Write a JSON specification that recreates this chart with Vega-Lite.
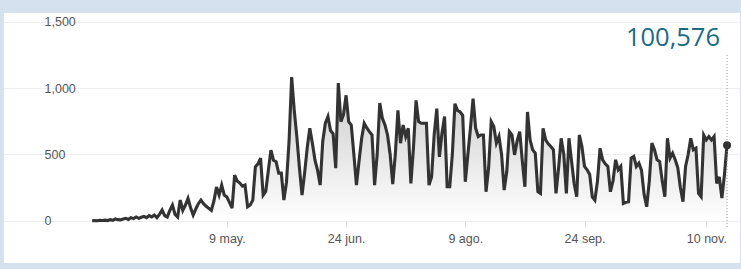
{
  "$schema": "https://vega.github.io/schema/vega-lite/v6.json",
  "autosize": "none",
  "width": 736,
  "height": 250,
  "padding": {"left": 4, "top": 13, "right": 1, "bottom": 6},
  "background": "#d5e1ee",
  "title": {"text": "100,576", "orient": "top", "anchor": "end", "frame": "group", "offset": -24, "dx": -20, "dy": 34, "baseline": "alphabetic", "font": "Open Sans", "fontSize": 25.5, "fontWeight": "normal", "color": "#1b6b82"},
  "config": {
    "view": {"fill": "white", "stroke": null},
    "axis": {"labelFont": "Liberation Sans", "labelFontSize": 12.5, "labelColor": "#555555", "gridColor": "#eeeeee", "domain": false, "title": null, "labelOverlap": false, "labelFlush": false}
  },
  "data": {"values": [
    {"date":"2020-03-18","cases":2},{"date":"2020-03-19","cases":3},{"date":"2020-03-20","cases":2},{"date":"2020-03-21","cases":5},{"date":"2020-03-22","cases":4},{"date":"2020-03-23","cases":6},{"date":"2020-03-24","cases":3},{"date":"2020-03-25","cases":10},{"date":"2020-03-26","cases":5},{"date":"2020-03-27","cases":15},{"date":"2020-03-28","cases":10},{"date":"2020-03-29","cases":8},{"date":"2020-03-30","cases":15},{"date":"2020-03-31","cases":20},
    {"date":"2020-04-01","cases":12},{"date":"2020-04-02","cases":25},{"date":"2020-04-03","cases":18},{"date":"2020-04-04","cases":30},{"date":"2020-04-05","cases":20},{"date":"2020-04-06","cases":28},{"date":"2020-04-07","cases":35},{"date":"2020-04-08","cases":25},{"date":"2020-04-09","cases":40},{"date":"2020-04-10","cases":30},{"date":"2020-04-11","cases":45},{"date":"2020-04-12","cases":25},{"date":"2020-04-13","cases":50},{"date":"2020-04-14","cases":82},{"date":"2020-04-15","cases":40},{"date":"2020-04-16","cases":30},{"date":"2020-04-17","cases":80},{"date":"2020-04-18","cases":120},{"date":"2020-04-19","cases":50},{"date":"2020-04-20","cases":30},{"date":"2020-04-21","cases":157},{"date":"2020-04-22","cases":80},{"date":"2020-04-23","cases":120},{"date":"2020-04-24","cases":170},{"date":"2020-04-25","cases":100},{"date":"2020-04-26","cases":45},{"date":"2020-04-27","cases":90},{"date":"2020-04-28","cases":130},{"date":"2020-04-29","cases":157},{"date":"2020-04-30","cases":130},
    {"date":"2020-05-01","cases":110},{"date":"2020-05-02","cases":95},{"date":"2020-05-03","cases":80},{"date":"2020-05-04","cases":150},{"date":"2020-05-05","cases":255},{"date":"2020-05-06","cases":195},{"date":"2020-05-07","cases":270},{"date":"2020-05-08","cases":195},{"date":"2020-05-09","cases":180},{"date":"2020-05-10","cases":140},{"date":"2020-05-11","cases":97},{"date":"2020-05-12","cases":345},{"date":"2020-05-13","cases":300},{"date":"2020-05-14","cases":285},{"date":"2020-05-15","cases":262},{"date":"2020-05-16","cases":270},{"date":"2020-05-17","cases":107},{"date":"2020-05-18","cases":120},{"date":"2020-05-19","cases":157},{"date":"2020-05-20","cases":407},{"date":"2020-05-21","cases":430},{"date":"2020-05-22","cases":472},{"date":"2020-05-23","cases":195},{"date":"2020-05-24","cases":222},{"date":"2020-05-25","cases":380},{"date":"2020-05-26","cases":532},{"date":"2020-05-27","cases":457},{"date":"2020-05-28","cases":445},{"date":"2020-05-29","cases":360},{"date":"2020-05-30","cases":360},{"date":"2020-05-31","cases":157},
    {"date":"2020-06-01","cases":290},{"date":"2020-06-02","cases":600},{"date":"2020-06-03","cases":1082},{"date":"2020-06-04","cases":832},{"date":"2020-06-05","cases":632},{"date":"2020-06-06","cases":400},{"date":"2020-06-07","cases":195},{"date":"2020-06-08","cases":360},{"date":"2020-06-09","cases":550},{"date":"2020-06-10","cases":697},{"date":"2020-06-11","cases":585},{"date":"2020-06-12","cases":457},{"date":"2020-06-13","cases":380},{"date":"2020-06-14","cases":270},{"date":"2020-06-15","cases":600},{"date":"2020-06-16","cases":735},{"date":"2020-06-17","cases":785},{"date":"2020-06-18","cases":680},{"date":"2020-06-19","cases":655},{"date":"2020-06-20","cases":397},{"date":"2020-06-21","cases":1037},{"date":"2020-06-22","cases":747},{"date":"2020-06-23","cases":800},{"date":"2020-06-24","cases":945},{"date":"2020-06-25","cases":747},{"date":"2020-06-26","cases":722},{"date":"2020-06-27","cases":500},{"date":"2020-06-28","cases":270},{"date":"2020-06-29","cases":450},{"date":"2020-06-30","cases":620},
    {"date":"2020-07-01","cases":735},{"date":"2020-07-02","cases":700},{"date":"2020-07-03","cases":672},{"date":"2020-07-04","cases":647},{"date":"2020-07-05","cases":270},{"date":"2020-07-06","cases":500},{"date":"2020-07-07","cases":887},{"date":"2020-07-08","cases":772},{"date":"2020-07-09","cases":722},{"date":"2020-07-10","cases":647},{"date":"2020-07-11","cases":500},{"date":"2020-07-12","cases":277},{"date":"2020-07-13","cases":500},{"date":"2020-07-14","cases":832},{"date":"2020-07-15","cases":585},{"date":"2020-07-16","cases":722},{"date":"2020-07-17","cases":635},{"date":"2020-07-18","cases":697},{"date":"2020-07-19","cases":282},{"date":"2020-07-20","cases":550},{"date":"2020-07-21","cases":907},{"date":"2020-07-22","cases":747},{"date":"2020-07-23","cases":735},{"date":"2020-07-24","cases":735},{"date":"2020-07-25","cases":735},{"date":"2020-07-26","cases":270},{"date":"2020-07-27","cases":332},{"date":"2020-07-28","cases":650},{"date":"2020-07-29","cases":845},{"date":"2020-07-30","cases":482},{"date":"2020-07-31","cases":660},
    {"date":"2020-08-01","cases":785},{"date":"2020-08-02","cases":257},{"date":"2020-08-03","cases":257},{"date":"2020-08-04","cases":500},{"date":"2020-08-05","cases":882},{"date":"2020-08-06","cases":832},{"date":"2020-08-07","cases":820},{"date":"2020-08-08","cases":795},{"date":"2020-08-09","cases":295},{"date":"2020-08-10","cases":500},{"date":"2020-08-11","cases":700},{"date":"2020-08-12","cases":920},{"date":"2020-08-13","cases":697},{"date":"2020-08-14","cases":635},{"date":"2020-08-15","cases":647},{"date":"2020-08-16","cases":647},{"date":"2020-08-17","cases":220},{"date":"2020-08-18","cases":400},{"date":"2020-08-19","cases":747},{"date":"2020-08-20","cases":710},{"date":"2020-08-21","cases":585},{"date":"2020-08-22","cases":635},{"date":"2020-08-23","cases":500},{"date":"2020-08-24","cases":232},{"date":"2020-08-25","cases":370},{"date":"2020-08-26","cases":672},{"date":"2020-08-27","cases":647},{"date":"2020-08-28","cases":497},{"date":"2020-08-29","cases":600},{"date":"2020-08-30","cases":672},{"date":"2020-08-31","cases":450},
    {"date":"2020-09-01","cases":257},{"date":"2020-09-02","cases":820},{"date":"2020-09-03","cases":610},{"date":"2020-09-04","cases":535},{"date":"2020-09-05","cases":510},{"date":"2020-09-06","cases":220},{"date":"2020-09-07","cases":207},{"date":"2020-09-08","cases":697},{"date":"2020-09-09","cases":610},{"date":"2020-09-10","cases":580},{"date":"2020-09-11","cases":560},{"date":"2020-09-12","cases":535},{"date":"2020-09-13","cases":207},{"date":"2020-09-14","cases":400},{"date":"2020-09-15","cases":622},{"date":"2020-09-16","cases":500},{"date":"2020-09-17","cases":207},{"date":"2020-09-18","cases":622},{"date":"2020-09-19","cases":450},{"date":"2020-09-20","cases":282},{"date":"2020-09-21","cases":182},{"date":"2020-09-22","cases":647},{"date":"2020-09-23","cases":560},{"date":"2020-09-24","cases":410},{"date":"2020-09-25","cases":385},{"date":"2020-09-26","cases":350},{"date":"2020-09-27","cases":182},{"date":"2020-09-28","cases":157},{"date":"2020-09-29","cases":300},{"date":"2020-09-30","cases":547},
    {"date":"2020-10-01","cases":460},{"date":"2020-10-02","cases":430},{"date":"2020-10-03","cases":410},{"date":"2020-10-04","cases":220},{"date":"2020-10-05","cases":300},{"date":"2020-10-06","cases":460},{"date":"2020-10-07","cases":385},{"date":"2020-10-08","cases":410},{"date":"2020-10-09","cases":132},{"date":"2020-10-10","cases":140},{"date":"2020-10-11","cases":145},{"date":"2020-10-12","cases":472},{"date":"2020-10-13","cases":485},{"date":"2020-10-14","cases":410},{"date":"2020-10-15","cases":435},{"date":"2020-10-16","cases":380},{"date":"2020-10-17","cases":200},{"date":"2020-10-18","cases":107},{"date":"2020-10-19","cases":300},{"date":"2020-10-20","cases":585},{"date":"2020-10-21","cases":535},{"date":"2020-10-22","cases":460},{"date":"2020-10-23","cases":447},{"date":"2020-10-24","cases":300},{"date":"2020-10-25","cases":182},{"date":"2020-10-26","cases":622},{"date":"2020-10-27","cases":472},{"date":"2020-10-28","cases":510},{"date":"2020-10-29","cases":460},{"date":"2020-10-30","cases":400},{"date":"2020-10-31","cases":250},
    {"date":"2020-11-01","cases":145},{"date":"2020-11-02","cases":410},{"date":"2020-11-03","cases":500},{"date":"2020-11-04","cases":622},{"date":"2020-11-05","cases":535},{"date":"2020-11-06","cases":547},{"date":"2020-11-07","cases":207},{"date":"2020-11-08","cases":182},{"date":"2020-11-09","cases":647},{"date":"2020-11-10","cases":610},{"date":"2020-11-11","cases":635},{"date":"2020-11-12","cases":610},{"date":"2020-11-13","cases":635},{"date":"2020-11-14","cases":282},{"date":"2020-11-15","cases":332},{"date":"2020-11-16","cases":172},{"date":"2020-11-17","cases":350},{"date":"2020-11-18","cases":570}
  ]},
  "encoding": {
    "x": {
      "field": "date", "type": "temporal",
      "scale": {"type": "utc", "domain": [{"year": 2020, "month": 2, "date": 13, "utc": true}, {"year": 2020, "month": 11, "date": 23, "utc": true}]},
      "axis": {
        "values": [{"year": 2020, "month": 5, "date": 9, "utc": true}, {"year": 2020, "month": 6, "date": 24, "utc": true}, {"year": 2020, "month": 8, "date": 9, "utc": true}, {"year": 2020, "month": 9, "date": 24, "utc": true}, {"year": 2020, "month": 11, "date": 10, "utc": true}],
        "labelExpr": "utcdate(datum.value) + ' ' + ['ene.','feb.','mar.','abr.','may.','jun.','jul.','ago.','sep.','oct.','nov.','dic.'][utcmonth(datum.value)]",
        "offset": -42, "grid": false, "ticks": true, "tickSize": 6, "tickColor": "#dddddd",
        "labelPadding": 15, "labelBaseline": "alphabetic", "labelAlign": "center"
      }
    },
    "y": {
      "field": "cases", "type": "quantitative",
      "scale": {"domain": [-316, 1564], "nice": false, "zero": false},
      "axis": {"values": [0, 500, 1000, 1500], "labelExpr": "format(datum.value, ',')", "grid": true, "ticks": false, "tickSize": 0, "labelAlign": "left", "labelPadding": -40}
    }
  },
  "layer": [
    {
      "mark": {"type": "area", "color": {"gradient": "linear", "x1": 0, "y1": 0, "x2": 0, "y2": 1, "stops": [{"offset": 0, "color": "#c9c9c9"}, {"offset": 1, "color": "#ffffff"}]}},
      "encoding": {"y2": {"datum": 0}}
    },
    {
      "mark": {"type": "line", "color": "#333333", "strokeWidth": 3.1}
    },
    {
      "transform": [{"filter": "utcmonth(datum.date) == 10 && utcdate(datum.date) == 18"}],
      "mark": {"type": "rule", "color": "#9a9a9a", "strokeWidth": 1, "strokeDash": [1, 2]},
      "encoding": {"y": {"datum": 1248}, "y2": {"datum": -52}}
    },
    {
      "transform": [{"filter": "utcmonth(datum.date) == 10 && utcdate(datum.date) == 18"}],
      "mark": {"type": "point", "filled": true, "color": "#333333", "size": 64, "opacity": 1}
    }
  ]
}
